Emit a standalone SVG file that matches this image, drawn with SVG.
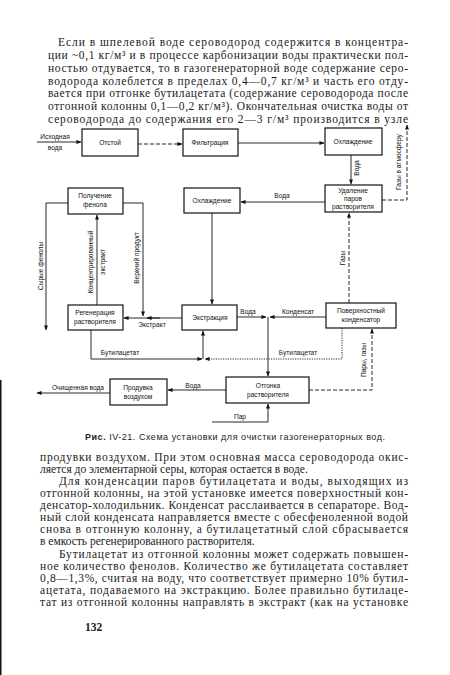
<svg xmlns="http://www.w3.org/2000/svg" width="450" height="675" viewBox="0 0 450 675">
<style>
.p{font-family:"Liberation Serif","DejaVu Serif",serif;font-size:11.5px;fill:#1a1a1a}
.b{fill:#fff;stroke:#111;stroke-width:1.2}
.t{font-family:"Liberation Sans","DejaVu Sans",sans-serif;font-size:6.6px;fill:#111;text-anchor:middle}
.l{fill:none;stroke:#111;stroke-width:0.9}
.d{stroke-dasharray:4,2}
.o{stroke-dasharray:1.2,1.2}
.cap{font-family:"Liberation Sans","DejaVu Sans",sans-serif;font-size:9px;fill:#222}
</style>
<defs>
<marker id="a" viewBox="0 0 6 6" refX="5.5" refY="3" markerWidth="5" markerHeight="5" orient="auto" markerUnits="userSpaceOnUse">
<path d="M0,0.6 L6,3 L0,5.4 Z" fill="#111"/>
</marker>
</defs>
<rect width="450" height="675" fill="#fff"/>
<rect x="0" y="380" width="1.5" height="295" fill="#111"/>

<g id="text-top">
<text class="p" x="58" y="46" textLength="350" lengthAdjust="spacing">Если в шпелевой воде сероводород содержится в концентра-</text>
<text class="p" x="48" y="59" textLength="360" lengthAdjust="spacing">ции ~0,1 кг/м³ и в процессе карбонизации воды практически пол-</text>
<text class="p" x="48" y="72" textLength="360" lengthAdjust="spacing">ностью отдувается, то в газогенераторной воде содержание серо-</text>
<text class="p" x="48" y="85" textLength="360" lengthAdjust="spacing">водорода колеблется в пределах 0,4—0,7 кг/м³ и часть его отду-</text>
<text class="p" x="48" y="97" textLength="360" lengthAdjust="spacing">вается при отгонке бутилацетата (содержание сероводорода после</text>
<text class="p" x="48" y="110" textLength="360" lengthAdjust="spacing">отгонной колонны 0,1—0,2 кг/м³). Окончательная очистка воды от</text>
<text class="p" x="48" y="123" textLength="360" lengthAdjust="spacing">сероводорода до содержания его 2—3 г/м³ производится в узле</text>
</g>

<g id="connectors">
<path class="l" d="M37,142 H81" marker-end="url(#a)"/>
<path class="l d" d="M138,144 H182" marker-end="url(#a)"/>
<path class="l" d="M238,143 H324" marker-end="url(#a)"/>
<path class="l" d="M351,155 V184" marker-end="url(#a)"/>
<path class="l d" d="M382,200 H407 V125" marker-end="url(#a)"/>
<path class="l" d="M325,202 H241" marker-end="url(#a)"/>
<path class="l d" d="M349,303 V213" marker-end="url(#a)"/>
<path class="l" d="M212,213 V304" marker-end="url(#a)"/>
<path class="l" d="M68,203 H46 V330" marker-end="url(#a)"/>
<path class="l" d="M97,305 V215" marker-end="url(#a)"/>
<path class="l" d="M123,203 H143 V316" marker-end="url(#a)"/>
<path class="l" d="M182,318 H124" marker-end="url(#a)"/>
<path class="l" d="M160,318 H147" marker-end="url(#a)"/>
<path class="l" d="M91,330 V359 H202" marker-end="url(#a)"/>
<path class="l o" d="M342,328 V359 H205" marker-end="url(#a)"/>
<path class="l" d="M203,359 V331" marker-end="url(#a)"/>
<path class="l" d="M237,317 H266" marker-end="url(#a)"/>
<path class="l" d="M326,317 H270" marker-end="url(#a)"/>
<path class="l" d="M268,317 V376" marker-end="url(#a)"/>
<path class="l d" d="M309,390 H372 V329" marker-end="url(#a)"/>
<path class="l" d="M212,422 H268 V404" marker-end="url(#a)"/>
<path class="l" d="M226,390 H168" marker-end="url(#a)"/>
<path class="l" d="M110,393 H37" marker-end="url(#a)"/>
</g>

<g id="labels">
<text class="t" x="55" y="139">Исходная</text>
<text class="t" x="55" y="150">вода</text>
<text class="t" transform="translate(359,168) rotate(-90)">Вода</text>
<text class="t" transform="translate(401,162) rotate(-90)">Газы в атмосферу</text>
<text class="t" x="282" y="198">Вода</text>
<text class="t" transform="translate(345,258) rotate(-90)">Газы</text>
<text class="t" transform="translate(43,266) rotate(-90)">Сырые фенолы</text>
<text class="t" transform="translate(93,262) rotate(-90)">Концентрированный</text>
<text class="t" transform="translate(105,262) rotate(-90)">экстракт</text>
<text class="t" transform="translate(139,258) rotate(-90)">Верхний продукт</text>
<text class="t" x="152" y="327">Экстракт</text>
<text class="t" x="120" y="355">Бутилацетат</text>
<text class="t" x="298" y="355">Бутилацетат</text>
<text class="t" x="248" y="314">Вода</text>
<text class="t" x="298" y="314">Конденсат</text>
<text class="t" transform="translate(366,360) rotate(-90)">Пары, газы</text>
<text class="t" x="240" y="419">Пар</text>
<text class="t" x="193" y="388">Вода</text>
<text class="t" x="78" y="390">Очищенная вода</text>
</g>

<g id="n-otstoy"><rect class="b" x="82" y="129" width="56" height="27"/><text class="t" x="110" y="145">Отстой</text></g>
<g id="n-filtr"><rect class="b" x="183" y="129" width="55" height="27"/><text class="t" x="210" y="145">Фильтрация</text></g>
<g id="n-ohl1"><rect class="b" x="325" y="128" width="57" height="27"/><text class="t" x="353" y="144">Охлаждение</text></g>
<g id="n-udal"><rect class="b" x="325" y="185" width="57" height="27"/><text class="t" x="353" y="193">Удаление</text><text class="t" x="353" y="201">паров</text><text class="t" x="353" y="209">растворителя</text></g>
<g id="n-ohl2"><rect class="b" x="184" y="188" width="56" height="25"/><text class="t" x="212" y="203">Охлаждение</text></g>
<g id="n-fenol"><rect class="b" x="68" y="188" width="55" height="26"/><text class="t" x="95" y="198">Получение</text><text class="t" x="95" y="207">фенола</text></g>
<g id="n-regen"><rect class="b" x="68" y="305" width="55" height="25"/><text class="t" x="95" y="315">Регенерация</text><text class="t" x="95" y="324">растворителя</text></g>
<g id="n-extr"><rect class="b" x="182" y="305" width="55" height="25"/><text class="t" x="210" y="320">Экстракция</text></g>
<g id="n-kond"><rect class="b" x="326" y="303" width="70" height="25"/><text class="t" x="361" y="313">Поверхностный</text><text class="t" x="361" y="322">конденсатор</text></g>
<g id="n-otgon"><rect class="b" x="226" y="377" width="83" height="26"/><text class="t" x="268" y="388">Отгонка</text><text class="t" x="268" y="397">растворителя</text></g>
<g id="n-produv"><rect class="b" x="110" y="379" width="57" height="26"/><text class="t" x="138" y="390">Продувка</text><text class="t" x="138" y="399">воздухом</text></g>

<g id="caption">
<text class="cap" x="85" y="440" textLength="300" lengthAdjust="spacing"><tspan font-weight="bold">Рис.</tspan> IV-21. Схема установки для очистки газогенераторных вод.</text>
</g>

<g id="text-bottom">
<text class="p" x="40" y="461" textLength="368" lengthAdjust="spacing">продувки воздухом. При этом основная масса сероводорода окис-</text>
<text class="p" x="40" y="473">ляется до элементарной серы, которая остается в воде.</text>
<text class="p" x="59" y="485" textLength="349" lengthAdjust="spacing">Для конденсации паров бутилацетата и воды, выходящих из</text>
<text class="p" x="40" y="497" textLength="368" lengthAdjust="spacing">отгонной колонны, на этой установке имеется поверхностный кон-</text>
<text class="p" x="40" y="509" textLength="368" lengthAdjust="spacing">денсатор-холодильник. Конденсат расслаивается в сепараторе. Вод-</text>
<text class="p" x="40" y="521" textLength="368" lengthAdjust="spacing">ный слой конденсата направляется вместе с обесфеноленной водой</text>
<text class="p" x="40" y="533" textLength="368" lengthAdjust="spacing">снова в отгонную колонну, а бутилацетатный слой сбрасывается</text>
<text class="p" x="40" y="545">в емкость регенерированного растворителя.</text>
<text class="p" x="59" y="558" textLength="349" lengthAdjust="spacing">Бутилацетат из отгонной колонны может содержать повышен-</text>
<text class="p" x="40" y="570" textLength="368" lengthAdjust="spacing">ное количество фенолов. Количество же бутилацетата составляет</text>
<text class="p" x="40" y="582" textLength="368" lengthAdjust="spacing">0,8—1,3%, считая на воду, что соответствует примерно 10% бутил-</text>
<text class="p" x="40" y="594" textLength="368" lengthAdjust="spacing">ацетата, подаваемого на экстракцию. Более правильно бутилаце-</text>
<text class="p" x="40" y="606" textLength="368" lengthAdjust="spacing">тат из отгонной колонны направлять в экстракт (как на установке</text>
<text class="p" x="85" y="631" font-weight="bold" font-size="12">132</text>
</g>
</svg>
